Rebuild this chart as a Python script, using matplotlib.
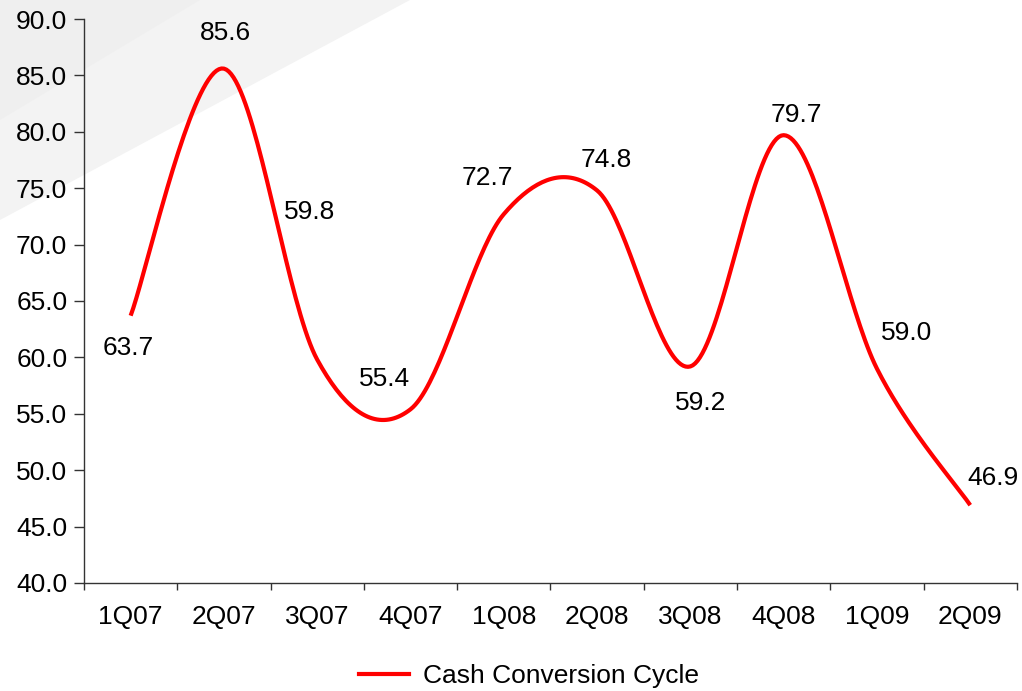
import numpy as np
import matplotlib
matplotlib.use("Agg")
import matplotlib.pyplot as plt
from matplotlib.lines import Line2D
from matplotlib.patches import Polygon

categories = ["1Q07", "2Q07", "3Q07", "4Q07", "1Q08", "2Q08", "3Q08", "4Q08", "1Q09", "2Q09"]
ccc_values = [63.7, 85.6, 59.8, 55.4, 72.7, 74.8, 59.2, 79.7, 59.0, 46.9]
value_labels = ["63.7", "85.6", "59.8", "55.4", "72.7", "74.8", "59.2", "79.7", "59.0", "46.9"]
y_ticks = [40, 45, 50, 55, 60, 65, 70, 75, 80, 85, 90]

# label offsets in pixels (dx, dy)
label_offsets = [(-2, -32), (1, 36), (-8, 148), (-26, 30), (-16, 36),
                 (9, 30), (10, -37), (13, 20), (30, 36), (23, 27)]

plt.rcParams['font.family'] = ['Liberation Sans', 'DejaVu Sans']
FS = 19

def smooth(xs, ys, n=40):
    P = np.column_stack([xs, ys]).astype(float)
    P = np.vstack([P[0], P, P[-1]])
    out = []
    for i in range(1, len(P) - 2):
        p0, p1, p2, p3 = P[i - 1], P[i], P[i + 1], P[i + 2]
        c1 = p1 + (p2 - p0) / 6.0
        c2 = p2 - (p3 - p1) / 6.0
        t = np.linspace(0, 1, n)[:, None]
        seg = ((1 - t) ** 3) * p1 + 3 * ((1 - t) ** 2) * t * c1 + 3 * (1 - t) * t ** 2 * c2 + t ** 3 * p2
        out.append(seg if i == 1 else seg[1:])
    return np.vstack(out)

fig = plt.figure(figsize=(10.22, 6.91), dpi=100)

# faint background watermark in the top-left corner
W, H = 1022.0, 691.0
fig.add_artist(Polygon([(0, 1), (410 / W, 1), (0, 1 - 220 / H)], closed=True,
                       transform=fig.transFigure, facecolor="#f3f3f3", edgecolor="none", zorder=-2))
fig.add_artist(Polygon([(0, 1), (200 / W, 1), (0, 1 - 120 / H)], closed=True,
                       transform=fig.transFigure, facecolor="#efefef", edgecolor="none", zorder=-1))

ax = fig.add_axes([0.0822, 0.1563, 0.9128, 0.8162])
ax.set_zorder(1)
ax.patch.set_alpha(0)

x = np.arange(len(categories))
curve = smooth(x, ccc_values)
ax.plot(curve[:, 0], curve[:, 1], color="#FF0000", lw=3.0, solid_capstyle="butt")

for xi, v, lab, (dx, dy) in zip(x, ccc_values, value_labels, label_offsets):
    ax.annotate(lab, (xi, v), xytext=(dx, dy), textcoords="offset pixels",
                ha="center", va="center", fontsize=FS, color="black")

ax.set_xlim(-0.5, len(categories) - 0.5)
ax.set_ylim(40, 90)
ax.set_yticks(y_ticks)
ax.set_yticklabels([f"{t:.1f}" for t in y_ticks], fontsize=FS)
ax.set_xticks(np.arange(-0.5, len(categories), 1.0))
ax.set_xticklabels([])
ax.set_xticks(x, minor=True)
ax.set_xticklabels(categories, minor=True, fontsize=FS)
ax.tick_params(axis="x", which="major", length=5, width=1, direction="out", color="#333333")
ax.tick_params(axis="x", which="minor", length=0, pad=16)
ax.tick_params(axis="y", length=7, width=1, direction="out", pad=5, color="#333333")
for s in ["top", "right"]:
    ax.spines[s].set_visible(False)
for s in ["left", "bottom"]:
    ax.spines[s].set_color("#333333")
    ax.spines[s].set_linewidth(1)

handle = Line2D([], [], color="#FF0000", lw=3.0)
fig.legend([handle], ["Cash Conversion Cycle"], loc="center", bbox_to_anchor=(529 / W, 1 - 676 / H),
           frameon=False, fontsize=FS, handlelength=1.9, handletextpad=0.55)

fig.savefig("out.png", dpi=100)
